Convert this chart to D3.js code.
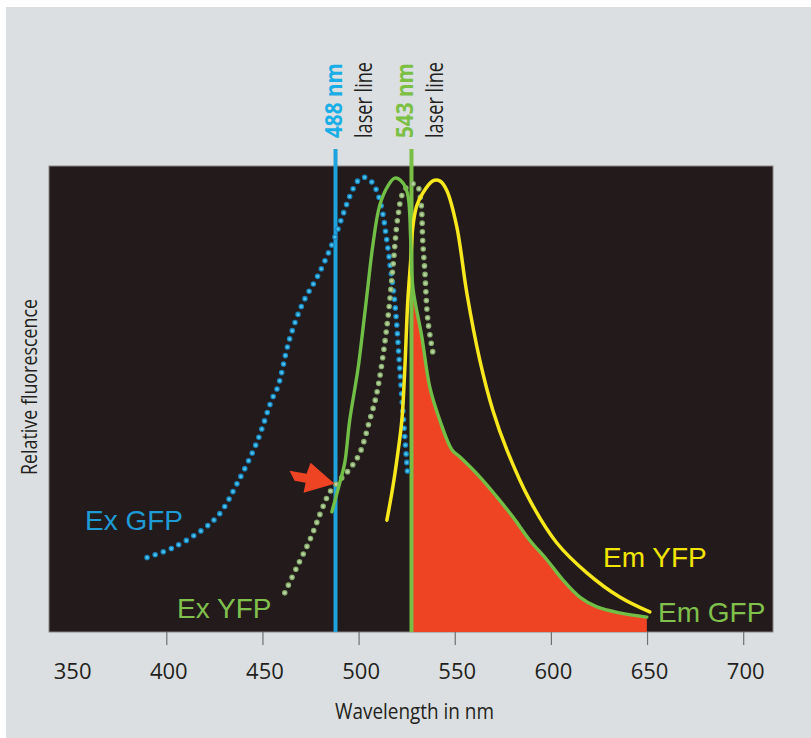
<!DOCTYPE html>
<html>
<head>
<meta charset="utf-8">
<script src="https://cdn.jsdelivr.net/npm/d3@7"></script>
<style>
  body { margin: 0; background: #fff; }
  svg { display: block; }
</style>
</head>
<body>
<div id="chart"></div>
<script>
// wavelength ticks on the x axis
var tickValues = [350, 400, 450, 500, 550, 600, 650, 700];

// laser lines: where they sit on the scale, and their labels
var laserPos = [488, 527.5];
var laserNames = ['488 nm', '543 nm'];

// spectra [wavelength, relative fluorescence]
var exGfp = [[390, 16], [403, 18], [419, 22], [428, 25.5], [437, 32], [447, 40.6], [455, 50],
    [458, 52.6], [464, 62.7], [471, 70.6], [479, 76.6], [487, 84], [494, 92], [497, 95],
    [500, 97], [503, 97.6], [507, 96.5], [510, 94], [512.5, 90], [514, 86], [516, 80],
    [519, 70], [521.5, 56], [524, 42], [525.6, 33.5]];

var exYfp = [[461.6, 8.4], [468, 14], [474.6, 19.7], [481.4, 26.8], [485, 30], [490, 32.5],
    [495.4, 35], [500.6, 38.4], [505.8, 45.5], [509.5, 51.3], [514.7, 65.5], [517.8, 78],
    [520.4, 89], [523, 94.2], [526.6, 96], [530.2, 96], [532.3, 92.7], [533.4, 83.5],
    [534.4, 77.7], [536, 67], [538.6, 60]];

var emGfp = [[486.1, 25.8], [490.2, 32], [492.8, 36.3], [495.4, 45.5], [499.6, 56.2],
    [502.2, 64.8], [504.8, 74], [507.4, 83], [511, 91.6], [515.2, 95.7], [518.8, 97.4],
    [523, 96.4], [525.6, 93.8], [527.1, 84.1], [528.2, 74], [532.9, 63.3], [537, 52.6],
    [542.2, 45.5], [548.5, 39.1], [552.6, 37.6], [563, 33.3], [571.9, 29], [580.2, 24.7],
    [589, 19.7], [597.9, 15.5], [606.2, 11.2], [615, 7.5], [623.9, 5.4], [635.8, 4.1],
    [649.9, 3.2]];

var emYfp = [[514.7, 24], [517.8, 31.1], [520.4, 38.4], [522.5, 45.5], [524, 56.2],
    [525.6, 71.2], [527.1, 79.8], [528.2, 86.9], [530.2, 91.4], [533.4, 94.2], [538.6, 96.8],
    [542.2, 96.8], [545.8, 94.8], [551.1, 86.9], [556.3, 72.7], [563, 58.4], [569.8, 47.6],
    [577.1, 39.1], [589, 28.3], [603.1, 19.1], [618.7, 12.7], [635.8, 7.5], [651.4, 4.3]];

var width = 811, height = 738,
    margin = {top: 166, left: 49, right: 38, bottom: 106},
    svg = d3.select('#chart').append('svg')
        .attr('width', width)
        .attr('height', height);

var textFont = "'Open Sans', 'Noto Sans', sans-serif",
    labelFont = "'Liberation Sans', Arial, sans-serif";

// grey panel behind everything
svg.append('rect')
    .attr('x', 6).attr('y', 7)
    .attr('width', width - 6).attr('height', height - 7)
    .attr('fill', '#dcdfe1');

var x = d3.scaleLinear()
    .domain([339, 715.5])
    .range([margin.left, width - margin.right]);

var y = d3.scaleLinear()
    .domain([0, 100])
    .range([height - margin.bottom, margin.top]);

// dark plot area
svg.append('rect')
    .attr('x', x.range()[0]).attr('y', y.range()[1])
    .attr('width', x.range()[1] - x.range()[0])
    .attr('height', y.range()[0] - y.range()[1])
    .attr('fill', '#231a1b')
    .attr('stroke', '#8a8585')
    .attr('stroke-width', 1);

var line = d3.line()
    .x(function (d) { return x(d[0]); })
    .y(function (d) { return y(d[1]); })
    .curve(d3.curveCatmullRom.alpha(0.5));

// red area: GFP emission collected after the 543 line
var area = d3.area()
    .x(function (d) { return x(d[0]); })
    .y0(y(0))
    .y1(function (d) { return y(d[1]); })
    .curve(d3.curveCatmullRom.alpha(0.5));

svg.append('path')
    .datum(emGfp.filter(function (d) { return d[0] >= laserPos[1]; }))
    .attr('d', area)
    .attr('fill', '#ee4423');

// laser lines
var laserColors = ['#1ea3de', '#79be45'];
svg.selectAll('.laser')
    .data(laserPos)
    .enter().append('line')
    .attr('class', 'laser')
    .attr('x1', function (d) { return x(d); })
    .attr('x2', function (d) { return x(d); })
    .attr('y1', 149)
    .attr('y2', y(0))
    .attr('stroke', function (d, i) { return laserColors[i]; })
    .attr('stroke-width', 4);

// laser labels, rotated
var labelOffsets = [[6.5, 36], [1.5, 31.5]];
var nameColors = ['#19aee6', '#7bc043'];
laserPos.forEach(function (p, i) {
    var g = svg.append('g')
        .attr('transform', 'translate(' + x(p) + ',138) rotate(-90)');
    g.append('text')
        .attr('y', labelOffsets[i][0])
        .attr('textLength', 75)
        .attr('lengthAdjust', 'spacingAndGlyphs')
        .style('font-family', textFont)
        .style('font-weight', 'bold')
        .style('font-size', '23px')
        .attr('fill', nameColors[i])
        .text(laserNames[i]);
    g.append('text')
        .attr('y', labelOffsets[i][1])
        .attr('textLength', 76)
        .attr('lengthAdjust', 'spacingAndGlyphs')
        .style('font-family', textFont)
        .style('font-size', '23px')
        .attr('fill', '#231f20')
        .text('laser line');
});

// dotted excitation curves (dark rim + light core)
function dotted(data, rim, core) {
    svg.append('path').datum(data).attr('d', line)
        .attr('fill', 'none').attr('stroke', rim)
        .attr('stroke-width', 5.6).attr('stroke-linecap', 'round')
        .attr('stroke-dasharray', '0 8.6');
    svg.append('path').datum(data).attr('d', line)
        .attr('fill', 'none').attr('stroke', core)
        .attr('stroke-width', 3).attr('stroke-linecap', 'round')
        .attr('stroke-dasharray', '0 8.6');
}
dotted(exGfp, '#1a86c0', '#4cc6ea');
dotted(exYfp, '#86ad6b', '#bcd4a6');

// emission curves
svg.append('path').datum(emYfp).attr('d', line)
    .attr('fill', 'none').attr('stroke', '#f6e81c')
    .attr('stroke-width', 3.5).attr('stroke-linecap', 'round');

svg.append('path').datum(emGfp).attr('d', line)
    .attr('fill', 'none').attr('stroke', '#71bf46')
    .attr('stroke-width', 3.4).attr('stroke-linecap', 'round');

// red arrow pointing at the 488 crossing
var arrowTip = [x(487.5), y(31.8)];
svg.append('path')
    .attr('d', 'M0,0 L-31,9 L-29,-1 L-40,-3 L-45,-13 L-28,-10 L-24,-21 Z')
    .attr('transform', 'translate(' + arrowTip + ')')
    .attr('fill', '#ee4423');

// curve labels
var curveLabels = [
    {text: 'Ex GFP', w: 357.7, v: 21.9, color: '#1e9bd4'},
    {text: 'Ex YFP', w: 405.6, v: 3, color: '#80c04d'},
    {text: 'Em YFP', w: 627.1, v: 13.9, color: '#f2e500'},
    {text: 'Em GFP', w: 655.7, v: 2.2, color: '#80c04d'}
];
svg.selectAll('.clabel')
    .data(curveLabels)
    .enter().append('text')
    .attr('class', 'clabel')
    .attr('x', function (d) { return x(d.w); })
    .attr('y', function (d) { return y(d.v); })
    .style('font-family', labelFont)
    .style('font-size', '28px')
    .attr('fill', function (d) { return d.color; })
    .text(function (d) { return d.text; });

// x axis
var xAxis = svg.append('g')
    .attr('transform', 'translate(0,' + y(0) + ')')
    .call(d3.axisBottom(x).tickValues(tickValues).tickSize(13).tickFormat(d3.format('d')));
xAxis.select('.domain').remove();
xAxis.selectAll('.tick line')
    .attr('stroke', '#6f6f6f')
    .attr('stroke-width', 1.2)
    .style('display', function (d) { return d === 350 ? 'none' : null; });
xAxis.selectAll('.tick text')
    .attr('y', 47).attr('dy', 0).attr('dx', 2)
    .attr('fill', '#231f20')
    .style('font-family', textFont)
    .style('font-size', '22px');

// axis titles
svg.append('text')
    .attr('x', 414.5).attr('y', 718.5)
    .attr('text-anchor', 'middle')
    .attr('textLength', 159)
    .attr('lengthAdjust', 'spacingAndGlyphs')
    .style('font-family', textFont)
    .style('font-size', '22px')
    .attr('fill', '#231f20')
    .text('Wavelength in nm');

svg.append('text')
    .attr('transform', 'translate(37,' + 387 + ') rotate(-90)')
    .attr('text-anchor', 'middle')
    .attr('textLength', 176)
    .attr('lengthAdjust', 'spacingAndGlyphs')
    .style('font-family', textFont)
    .style('font-size', '22px')
    .attr('fill', '#231f20')
    .text('Relative fluorescence');
</script>
</body>
</html>
